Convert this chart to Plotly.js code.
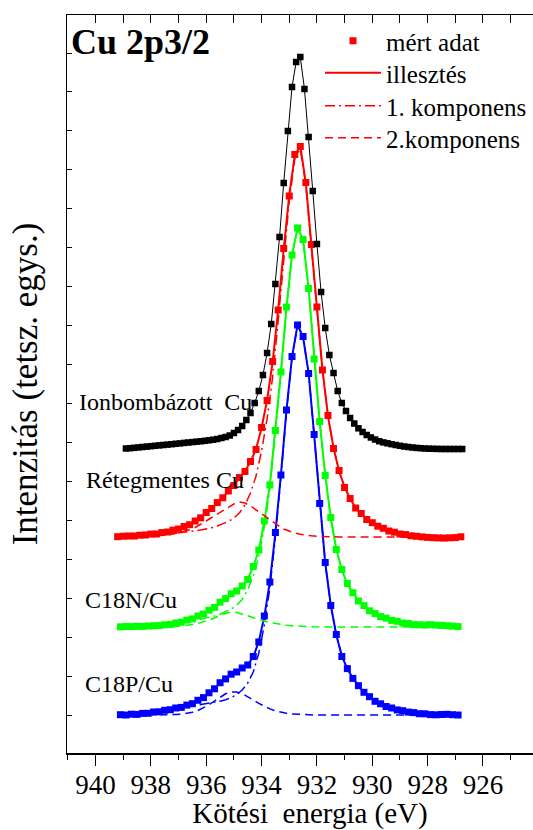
<!DOCTYPE html>
<html><head><meta charset="utf-8">
<script src="https://cdn.plot.ly/plotly-3.0.1.min.js"></script>
<style>html,body{margin:0;padding:0;overflow:hidden;background:#fff}#chart{width:553px;height:830px}</style>
</head><body><div id="chart"></div>
<script>
// Binding energy grids (eV)
const blackE = [938.9,938.75,938.6,938.45,938.3,938.15,938.0,937.85,937.7,937.55,
937.4,937.25,937.1,936.95,936.8,936.65,936.5,936.35,936.2,936.05,
935.9,935.75,935.6,935.45,935.3,935.15,935.0,934.85,934.7,934.55,
934.4,934.25,934.1,933.95,933.8,933.65,933.5,933.35,933.2,933.05,
932.9,932.75,932.6,932.45,932.3,932.15,932.0,931.85,931.7,931.55,
931.4,931.25,931.1,930.95,930.8,930.65,930.5,930.35,930.2,930.05,
929.9,929.75,929.6,929.45,929.3,929.15,929.0,928.85,928.7,928.55,
928.4,928.25,928.1,927.95,927.8,927.65,927.5,927.35,927.2,927.05,
926.9,926.75];
const redE = [939.2,939.0,938.8,938.6,938.4,938.2,938.0,937.8,937.6,937.4,
937.2,937.0,936.8,936.6,936.4,936.2,936.0,935.8,935.6,935.4,
935.2,935.0,934.8,934.6,934.4,934.2,934.0,933.8,933.6,933.4,
933.2,933.0,932.8,932.6,932.4,932.2,932.0,931.8,931.6,931.4,
931.2,931.0,930.8,930.6,930.4,930.2,930.0,929.8,929.6,929.4,
929.2,929.0,928.8,928.6,928.4,928.2,928.0,927.8,927.6,927.4,
927.2,927.0,926.8];
const gbE = [939.1,938.9,938.7,938.5,938.3,938.1,937.9,937.7,937.5,937.3,
937.1,936.9,936.7,936.5,936.3,936.1,935.9,935.7,935.5,935.3,
935.1,934.9,934.7,934.5,934.3,934.1,933.9,933.7,933.5,933.3,
933.1,932.9,932.7,932.5,932.3,932.1,931.9,931.7,931.5,931.3,
931.1,930.9,930.7,930.5,930.3,930.1,929.9,929.7,929.5,929.3,
929.1,928.9,928.7,928.5,928.3,928.1,927.9,927.7,927.5,927.3,
927.1,926.9];

// Vertical offsets of the stacked spectra (arb. units)
const offsets = {black:304, red:216, green:126, blue:38};

// Ionbombázott Cu (measured)
const blackData = [0.5,0.8,1.2,1.6,2.0,2.4,2.8,3.2,3.6,4.0,
4.4,4.8,5.2,5.6,6.1,6.5,6.9,7.3,7.7,8.2,
8.7,9.3,10,11,12,13.5,16,19,23,29,
36,46,58,74,96,125,165,212,266,318,
362,387,392,360,312,258,205,157,121,94,
76,58,46,38,31,25.5,20.7,17,14,11.5,
9.5,7.8,6.6,5.7,4.8,4.0,3.2,2.5,2.0,1.5,
1.1,0.8,0.5,0.3,0.2,0.1,0,0,0,0,
0,0];

// Rétegmentes Cu
const redData = [0.3,0.8,1.0,1.0,1.8,2.0,2.9,3.0,4.4,5.0,
6.9,8.0,10.5,12.3,16.0,19.2,24.5,28.5,34.4,39.2,
46,51.5,59.5,65.5,75.5,87.5,109.5,136.5,175.5,227,
288.5,341,382.5,390.5,354.5,292.5,230,167,121.5,88.5,
66.5,49.5,38.5,29,23.5,17.5,14.3,10.8,8.7,6.0,
4.8,3.0,2.4,1.2,0.7,0.1,-0.4,-0.7,-0.9,-1.1,
-0.8,-0.6,0.2];
const redFit = [0.5,0.7,0.9,1.2,1.6,2.1,2.6,3.2,4.1,5.2,
6.5,8.2,10.1,12.6,15.6,19.5,24,28.8,34,39.5,
45.5,52,59,66,75,88,109,137,175,227.5,
288,341.8,382,390.8,353.8,293.2,229.7,167.4,121.2,89.1,
66,50,38,29.5,23,18,14,11,8.5,6.3,
4.6,3.3,2.3,1.5,0.9,0.5,0.2,0,0,0,
0,0,0];
const redComp1 = [0.5,0.7,0.9,1.1,1.3,1.6,1.9,2.2,2.6,3.0,
3.5,4.0,4.6,5.3,6.1,7.0,8.0,9.3,11,13,
15.5,19,24,32,44,61,86,118,160,216,
280,336,378,388,352,292,229,167,121,89,
66,50,38,29.5,23,18,14,11,8.5,6.3,
4.6,3.3,2.3,1.5,0.9,0.5,0.2,0,0,0,
0,0,0];
const redComp2 = [0,0,0,0.1,0.3,0.5,0.7,1.0,1.5,2.2,
3.0,4.2,5.5,7.3,9.5,12.5,16,19.5,23,26.5,
30,33,35,34,31,27,23,19,15,11.5,
8,5.8,4,2.8,1.8,1.2,0.7,0.4,0.2,0.1,
0,0,0,0,0,0,0,0,0,0,
0,0,0,0,0,0,0,0,0,0,
0,0,0];

// C18N/Cu
const greenData = [0.2,0.5,0.4,0.7,0.6,1.0,1.2,1.4,2.2,2.6,
4.0,4.8,6.9,8.1,11.0,13.0,16.8,19.6,24.8,28.4,
33.2,36.0,41,47.5,60.5,77,106,142,196.5,255,
320,372,399,387.5,338.5,268,205.5,151.5,109.5,77.5,
57.5,43.5,34.3,26,21.4,16.2,13.5,10.4,8.9,6.6,
5.7,4.0,3.5,2.3,2.2,2.0,2.3,1.9,1.6,1.2,
0.9,0.4];
const greenFit = [0.3,0.4,0.5,0.6,0.7,0.9,1.1,1.5,2.0,2.8,
3.8,5.0,6.5,8.4,10.6,13.2,16.3,20,24.3,28.8,
32.8,36.3,40.5,48,60,77.2,105.7,142.4,196.3,255.5,
319.8,372.3,398.9,387.6,338.4,268.2,205.1,152,109,78,
57,43,34,26.5,21,16.5,13.2,10.7,8.6,6.9,
5.4,4.2,3.3,2.6,2.0,1.6,1.3,1.0,0.8,0.6,
0.5,0.4];
const greenComp1 = [0.3,0.4,0.5,0.6,0.7,0.9,1.1,1.5,1.9,2.5,
3.2,4.0,4.9,5.9,7.0,8.2,9.5,11,12.8,15,
17.8,21.8,27.5,37,51,70,100,138,193,253,
318,371,398,387,338,268,205,152,109,78,
57,43,34,26.5,21,16.5,13.2,10.7,8.6,6.9,
5.4,4.2,3.3,2.6,2.0,1.6,1.3,1.0,0.8,0.6,
0.5,0.4];
const greenComp2 = [0,0,0,0,0,0,0,0,0.1,0.3,
0.6,1.0,1.6,2.5,3.6,5.0,6.8,9.0,11.5,13.8,
15,14.5,13,11,9,7.2,5.7,4.4,3.3,2.5,
1.8,1.3,0.9,0.6,0.4,0.2,0.1,0,0,0,
0,0,0,0,0,0,0,0,0,0,
0,0,0,0,0,0,0,0,0,0,
0,0];

// C18P/Cu
const blueData = [0.3,0.0,0.8,0.6,1.6,1.7,3.0,3.2,4.7,5.3,
7.0,7.6,9.9,11.3,14.7,17.4,22.2,26.2,32.3,36.1,
40.8,43.0,47,50,58.5,73,99,133,182.5,240,
305,358.5,390,378.5,341.5,280.5,211.5,152.5,109.5,80.5,
58.5,46.4,36.6,29.3,22.7,18.3,13.7,11.2,8.5,7.0,
5.1,4.3,2.9,2.4,1.3,1.2,0.4,0.2,0.5,0.7,
0.3,0.0];
const blueFit = [0,0.2,0.5,0.8,1.3,1.9,2.6,3.4,4.4,5.5,
6.6,7.9,9.5,11.6,14.3,17.7,21.8,26.6,31.8,36.5,
40.3,43.3,46.5,50.5,58,73.6,98.6,133.1,182.1,240.7,
304.7,358,390.1,378,342,280,212,152,110,80,
59,46,37,29,23,18,14,11,8.7,6.8,
5.3,4.1,3.1,2.3,1.6,1.1,0.7,0.4,0.2,0.1,
0,0];
const blueComp1 = [0,0.2,0.5,0.8,1.3,1.9,2.6,3.4,4.3,5.3,
6.2,7.1,8.0,8.9,9.8,10.7,11.6,12.6,13.8,15.3,
17.3,20.3,25,32,43,62,90,127,178,238,
303,357,389.5,377.7,341.9,280,212,152,110,80,
59,46,37,29,23,18,14,11,8.7,6.8,
5.3,4.1,3.1,2.3,1.6,1.1,0.7,0.4,0.2,0.1,
0,0];
const blueComp2 = [0,0,0,0,0,0,0,0,0.1,0.2,
0.4,0.8,1.5,2.7,4.5,7,10.2,14,18,21.2,
23,23,21.5,18.5,15,11.6,8.6,6.1,4.1,2.7,
1.7,1.0,0.6,0.3,0.1,0,0,0,0,0,
0,0,0,0,0,0,0,0,0,0,
0,0,0,0,0,0,0,0,0,0,
0,0];

const sampleLabels = ['Ionbombázott\u00a0 Cu','Rétegmentes Cu','C18N/Cu','C18P/Cu'];
const legendNames = ['mért adat','illesztés','1. komponens','2.komponens'];
const chartTitle = 'Cu 2p3/2';
const xTitle = 'Kötési\u00a0 energia (eV)';
const yTitle = 'Intenzitás (tetsz. egys.)';

const FONT = 'Liberation Serif, serif';
const up = (arr, off) => arr.map(v => v + off);

const PW = 486, PH = 738, L = 67;
const px = v => (v - L) / PW;
const py = v => (753 - v) / PH;

// legend slots: one Plotly legend per entry (rows of the reference legend)
const legendIds = ['legend', 'legend2', 'legend3', 'legend4'];
const legendRowsPx = [41, 73, 106, 138];

const DASH = '8px,5px';
const DASHDOT = '10px,4px,2px,4px';

const traces = [];
const colored = [
  {E: gbE, d: blueData, f: blueFit, c1: blueComp1, c2: blueComp2, off: offsets.blue, col: '#0000ff', leg: false},
  {E: gbE, d: greenData, f: greenFit, c1: greenComp1, c2: greenComp2, off: offsets.green, col: '#00ff00', leg: false},
  {E: redE, d: redData, f: redFit, c1: redComp1, c2: redComp2, off: offsets.red, col: '#ff0000', leg: true}
];
colored.forEach(s => {
  traces.push({x: s.E, y: up(s.c2, s.off), mode: 'lines', line: {color: s.col, width: 1.5, dash: DASH},
    name: legendNames[3], showlegend: s.leg, legend: legendIds[3], hoverinfo: 'skip'});
  traces.push({x: s.E, y: up(s.c1, s.off), mode: 'lines', line: {color: s.col, width: 1.5, dash: DASHDOT},
    name: legendNames[2], showlegend: s.leg, legend: legendIds[2], hoverinfo: 'skip'});
  traces.push({x: s.E, y: up(s.f, s.off), mode: 'lines', line: {color: s.col, width: 2},
    name: legendNames[1], showlegend: s.leg, legend: legendIds[1]});
  traces.push({x: s.E, y: up(s.d, s.off), mode: 'markers', marker: {color: s.col, size: 7, symbol: 'square'},
    name: legendNames[0], showlegend: s.leg, legend: legendIds[0]});
});
traces.push({x: blackE, y: up(blackData, offsets.black), xaxis: 'x2', mode: 'lines+markers',
  line: {color: '#000', width: 1}, marker: {color: '#000', size: 6.5, symbol: 'square'},
  name: sampleLabels[0], showlegend: false});

const annotations = [
  {t: sampleLabels[0], x: 77, y: 402},
  {t: sampleLabels[1], x: 84, y: 480},
  {t: sampleLabels[2], x: 83, y: 600},
  {t: sampleLabels[3], x: 83, y: 684}
].map(a => ({text: a.t, xref: 'paper', yref: 'paper', x: px(a.x), y: py(a.y),
  xanchor: 'left', yanchor: 'middle', showarrow: false, font: {family: FONT, size: 24, color: '#000'}}));

const xr = [941.03, 923.47];
const layout = {
  width: 553, height: 830,
  margin: {l: 67, r: 0, t: 15, b: 77},
  paper_bgcolor: '#fff', plot_bgcolor: '#fff',
  showlegend: true,
  font: {family: FONT, color: '#000'},
  title: {text: chartTitle, font: {family: FONT, size: 36, color: '#000', weight: 'bold'},
    xref: 'paper', x: px(71), xanchor: 'left', yref: 'container', y: 1 - 41/830, yanchor: 'middle'},
  xaxis: {range: xr, showline: true, linewidth: 1.5, linecolor: '#000', mirror: false,
    ticks: 'outside', ticklen: 11, tickwidth: 1, tickcolor: '#000', tick0: 940, dtick: 2,
    minor: {ticks: 'outside', ticklen: 5, tickwidth: 1, tickcolor: '#000', dtick: 1, tick0: 939},
    showgrid: false, zeroline: false, automargin: false, ticklabelstandoff: -4,
    tickfont: {family: FONT, size: 27, color: '#000'},
    title: {text: xTitle, font: {family: FONT, size: 29, color: '#000'}, standoff: 4}},
  xaxis2: {range: xr, overlaying: 'x', side: 'top', anchor: 'y', showline: true, linewidth: 1.5, linecolor: '#000',
    ticks: 'inside', ticklen: 8, tickwidth: 1, tickcolor: '#000', tick0: 940, dtick: 1,
    showticklabels: false, showgrid: false, zeroline: false, automargin: false},
  yaxis: {range: [0, 738], showline: true, linewidth: 1.5, linecolor: '#000', mirror: false,
    ticks: 'inside', ticklen: 5, tickwidth: 1, tickcolor: '#000', tick0: 38, dtick: 38.94,
    showticklabels: false, showgrid: false, zeroline: false, automargin: false,
    title: {text: yTitle, font: {family: FONT, size: 35, color: '#000'}, standoff: 17}},
  annotations: annotations
};
legendIds.forEach((id, i) => {
  layout[id] = {x: px(320), y: py(legendRowsPx[i]), xanchor: 'left', yanchor: 'middle',
    bgcolor: 'rgba(0,0,0,0)', borderwidth: 0, itemwidth: 56,
    font: {family: FONT, size: 25, color: '#000'}};
});

Plotly.newPlot('chart', traces, layout, {displayModeBar: false, staticPlot: true});
</script></body></html>
